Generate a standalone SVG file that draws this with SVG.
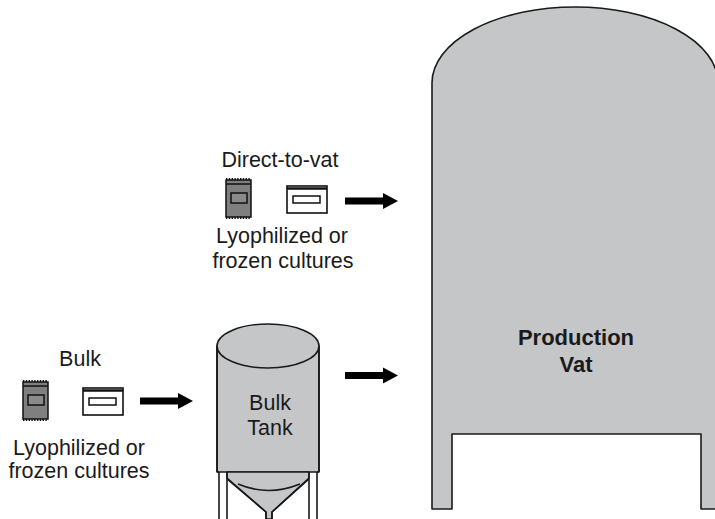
<svg xmlns="http://www.w3.org/2000/svg" width="715" height="519" viewBox="0 0 715 519">
  <defs>
    <style>
      .lbl { font-family: "Liberation Sans", Arial, sans-serif; font-size: 21.5px; fill: #1a1a1a; text-anchor: middle; }
      .bold { font-weight: bold; font-size: 22px; }
      .vessel { fill: #c5c6c8; stroke: #1a1a1a; stroke-width: 1.6; stroke-linejoin: round; }
      .line { fill: none; stroke: #1a1a1a; stroke-width: 1.6; }
      .pack { fill: #7f7f7f; stroke: #111; stroke-width: 1.5; }
      .teeth { stroke: #111; stroke-width: 2.2; stroke-dasharray: 1.4 1.4; fill: none; }
      .box { fill: #fff; stroke: #111; stroke-width: 1.6; }
      .arrow { fill: #000; }
    </style>
    <!-- freeze-dried sachet -->
    <g id="sachet">
      <rect class="pack" x="0" y="1" width="25" height="37"/>
      <line class="teeth" x1="0" y1="0" x2="25" y2="0"/>
      <line class="teeth" x1="0" y1="39" x2="25" y2="39"/>
      <line class="line" x1="0" y1="5" x2="25" y2="5" stroke-width="1.5"/>
      <rect x="5" y="14" width="16" height="10" fill="#8a8a8a" stroke="#111" stroke-width="1.5"/>
    </g>
    <!-- frozen pellet carton -->
    <g id="carton">
      <rect class="box" x="0" y="0" width="40" height="27"/>
      <line x1="0" y1="2.5" x2="40" y2="2.5" stroke="#111" stroke-width="2.5"/>
      <rect x="6" y="10" width="27" height="7" fill="#fff" stroke="#111" stroke-width="1.5"/>
    </g>
    <path id="arr" d="M0,-3.5 H38 V-8 L53,0 L38,8 V3.5 H0 Z"/>
  </defs>

  <!-- Production vat -->
  <g id="production-vat">
    <path class="vessel" d="M432,509 V83 A143,76 0 0 1 718,83 V509 H701 V434 H452 V509 Z"/>
    <text class="lbl bold" x="576" y="345">Production</text>
    <text class="lbl bold" x="576" y="372">Vat</text>
  </g>

  <!-- Bulk starter tank -->
  <g id="bulk-tank">
    <rect class="vessel" x="217" y="346" width="102" height="126" stroke="none"/>
    <line class="line" x1="217" y1="346" x2="217" y2="472"/>
    <line class="line" x1="319" y1="346" x2="319" y2="472"/>
    <ellipse class="vessel" cx="268" cy="346" rx="51" ry="22"/>
    <path d="M217,472 H219 M319,472 H317" class="line"/>
    <path class="vessel" stroke="none" d="M227,472 H309 V478 L272,512 V519 H266 V512 L227,478 Z"/>
    <path class="line" d="M227,479 L266,512 V519 M309,479 L272,512 V519"/>
    <path class="line" d="M238,484 Q268,497 300,484"/>
    <line class="line" x1="219" y1="472" x2="219" y2="519"/>
    <line class="line" x1="227" y1="472" x2="227" y2="519"/>
    <line class="line" x1="309" y1="472" x2="309" y2="519"/>
    <line class="line" x1="317" y1="472" x2="317" y2="519"/>
    <text class="lbl" x="270" y="410">Bulk</text>
    <text class="lbl" x="270" y="435">Tank</text>
  </g>

  <!-- Direct-to-vat cultures -->
  <g id="direct-to-vat">
    <text class="lbl" x="280" y="167">Direct-to-vat</text>
    <use href="#sachet" x="226" y="179"/>
    <use href="#carton" x="287" y="186"/>
    <text class="lbl" x="282" y="243">Lyophilized or</text>
    <text class="lbl" x="283" y="268">frozen cultures</text>
  </g>

  <!-- Bulk cultures -->
  <g id="bulk-cultures">
    <text class="lbl" x="80" y="366">Bulk</text>
    <use href="#sachet" x="23" y="381"/>
    <use href="#carton" x="83" y="388"/>
    <text class="lbl" x="79" y="455">Lyophilized or</text>
    <text class="lbl" x="79" y="478">frozen cultures</text>
  </g>

  <!-- Flow arrows -->
  <g id="connectors">
    <use href="#arr" class="arrow" x="345" y="201"/>
    <use href="#arr" class="arrow" x="345" y="375.5"/>
    <use href="#arr" class="arrow" x="140" y="401"/>
  </g>
</svg>
